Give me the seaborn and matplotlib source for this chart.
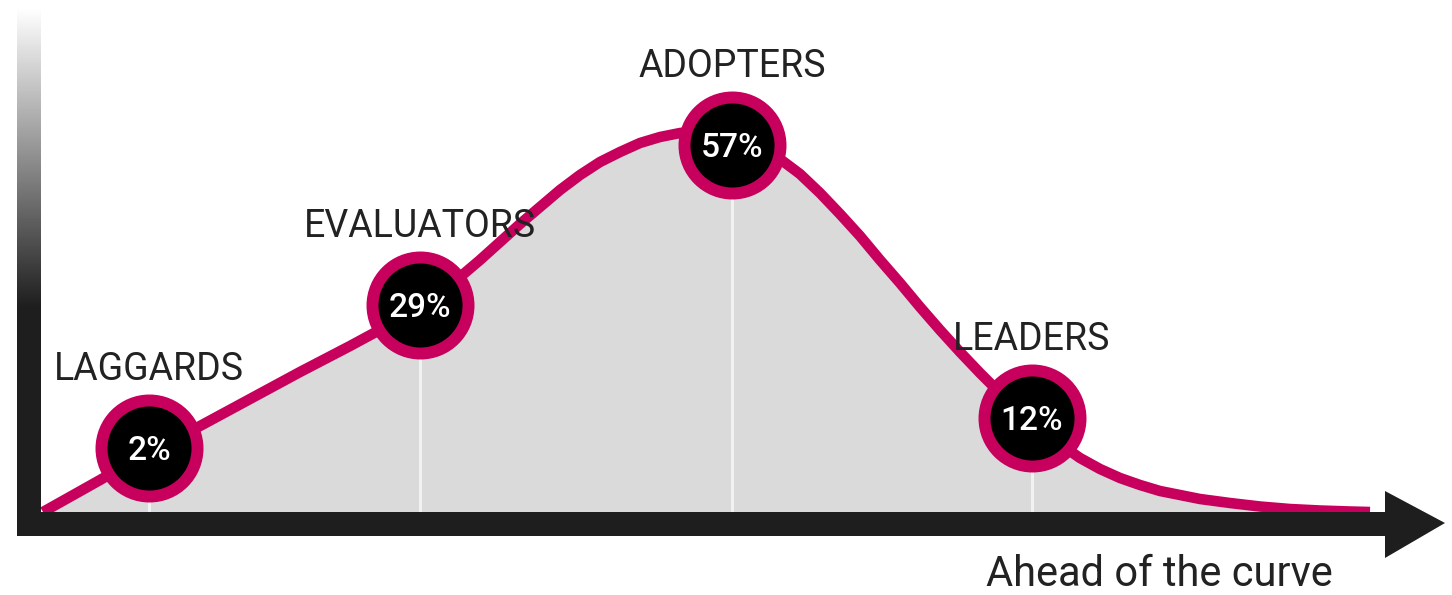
import numpy as np
import matplotlib
matplotlib.use("Agg")
import matplotlib.pyplot as plt
from matplotlib.colors import LinearSegmentedColormap
import seaborn as sns

# ---- data (x = position along axis, h = height above axis) ----
curve_x = [43, 100, 149, 200, 250, 300, 350, 400, 420, 440, 460, 480, 500, 520, 540,
           560, 580, 600, 620, 640, 660, 680, 700, 720, 740, 760, 780, 800, 820, 840,
           860, 880, 900, 920, 940, 960, 980, 1000, 1020, 1040, 1060, 1080, 1100,
           1120, 1140, 1160, 1180, 1200, 1230, 1260, 1290, 1320, 1350, 1370]
curve_h = [1, 33, 61, 87, 114, 141, 167, 194, 205, 220, 236, 253, 271, 289, 306,
           323, 338, 351, 361, 370, 376, 380, 382, 381, 377, 366, 354, 339, 320, 299,
           277, 253, 230, 206, 183, 161, 140, 120, 102, 85, 69, 55, 44,
           35, 28, 22, 18, 14, 10, 6.5, 4, 2.5, 1.5, 1]

segments = ["LAGGARDS", "EVALUATORS", "ADOPTERS", "LEADERS"]
seg_x = [149, 420, 732, 1032]
seg_h = [65, 208, 368, 95]
seg_pct = ["2%", "29%", "57%", "12%"]
x_axis_label = "Ahead of the curve"

# ---- style ----
MAGENTA = "#C6005C"
FILL = "#DADADA"
DARK = "#1E1E1E"

sns.set_theme(style="white")
plt.rcParams["font.family"] = ["Roboto", "DejaVu Sans"]

W, H = 1452, 595
fig = plt.figure(figsize=(W / 100, H / 100), dpi=100)
ax = fig.add_axes([0, 0, 1, 1])
ax.set_xlim(0, W)
ax.set_ylim(513 - H, 513)
ax.axis("off")

# area under curve
ax.fill_between(curve_x, curve_h, 0, color=FILL, lw=0, zorder=1)
# light guide lines under each marker
ax.vlines(seg_x, 0, seg_h, color="#F2F2F2", lw=2.2, zorder=2)
# curve
sns.lineplot(x=curve_x, y=curve_h, ax=ax, color=MAGENTA, lw=7.6, sort=False,
             zorder=3, legend=False)
ax.lines[-1].set_solid_capstyle("butt")
ax.lines[-1].set_solid_joinstyle("round")

# y-axis gradient bar
hs = np.linspace(-23, 513, 400)
t = np.clip((hs - 205) / (505 - 205), 0, 1)
cmap = LinearSegmentedColormap.from_list("g", [DARK, "#FFFFFF"])
ax.imshow(t[:, None], extent=[17, 41, -23, 513], origin="lower", aspect="auto",
          cmap=cmap, vmin=0, vmax=1, zorder=4, interpolation="bilinear")
# x-axis bar + arrow head
ax.fill([17, 1386, 1386, 17], [-23, -23, 1, 1], color=DARK, lw=0, zorder=4)
ax.fill([1385, 1385, 1445], [22, -45, -10], color=DARK, lw=0, zorder=4)
ax.set_xlim(0, W)
ax.set_ylim(513 - H, 513)

# markers
sns.scatterplot(x=seg_x, y=seg_h, ax=ax, s=4780, color="black",
                edgecolor=MAGENTA, linewidth=8.6, zorder=5, legend=False)

for x, h, name, pct in zip(seg_x, seg_h, segments, seg_pct):
    ax.text(x, h + 68, name, ha="center", va="baseline", fontsize=27,
            color="#222222", zorder=6)
    ax.text(x, h - 12, pct, ha="center", va="baseline", fontsize=24,
            fontweight="medium", color="white", zorder=6)

ax.text(1159, 513 - 586, x_axis_label, ha="center", va="baseline", fontsize=30,
        color="#222222", zorder=6)

fig.savefig("out.png", dpi=100)
